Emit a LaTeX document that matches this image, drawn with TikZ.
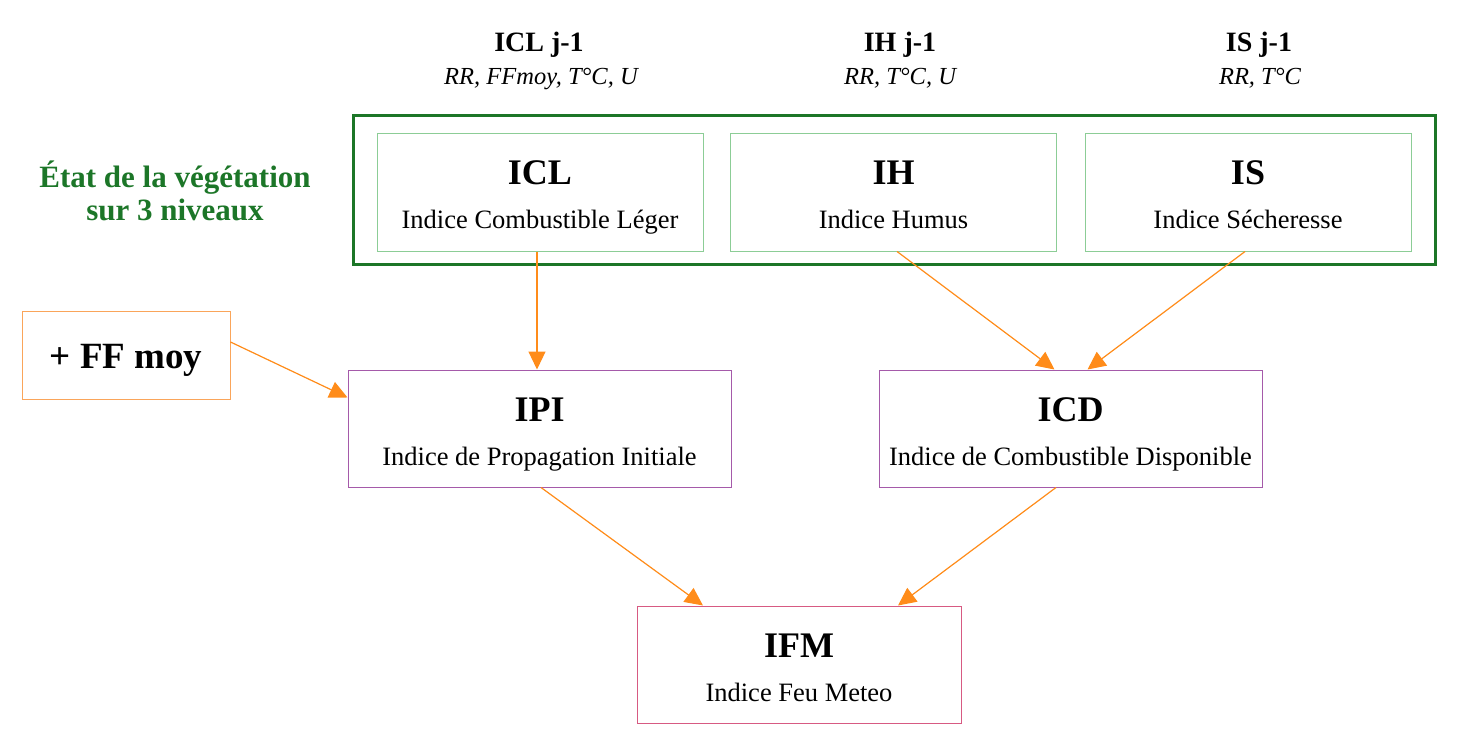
\documentclass[tikz,border=0pt]{standalone}
\usepackage{fontspec}
\setmainfont{Liberation Serif}
\usetikzlibrary{arrows.meta}
\definecolor{dkgreen}{RGB}{28,118,40}
\definecolor{ltgreen}{RGB}{140,205,150}
\definecolor{orng}{RGB}{255,140,26}
\definecolor{ffbox}{RGB}{250,165,90}
\definecolor{purp}{RGB}{165,90,170}
\definecolor{pinkb}{RGB}{215,90,130}
\tikzset{
  box/.style={draw, rectangle, inner sep=0pt, line width=1pt},
  vbox/.style={box, draw=ltgreen, minimum width=326pt, minimum height=117pt},
  ibox/.style={box, draw=purp, minimum width=383pt, minimum height=117pt},
  ttl/.style={anchor=base, inner sep=0pt, font=\fontsize{36}{36}\selectfont\bfseries},
  sub/.style={anchor=base, inner sep=0pt, font=\fontsize{26.5}{26.5}\selectfont},
  hd/.style={anchor=base, inner sep=0pt, font=\fontsize{28}{28}\selectfont\bfseries},
  vars/.style={anchor=base, inner sep=0pt, font=\fontsize{24.5}{24.5}\selectfont\itshape},
  grn/.style={anchor=base, inner sep=0pt, text=dkgreen, font=\fontsize{31}{31}\selectfont\bfseries},
  arr/.style={draw=orng, line width=1.2pt, -{Triangle[length=18pt,width=17pt]}, fill=orng}
}
\begin{document}
\begin{tikzpicture}[x=1pt,y=-1pt]
\useasboundingbox (0,0) rectangle (1460,749);
% header labels
\node[hd] (h1) at (539,52) {ICL j-1};
\node[vars] (v1) at (541,85) {RR, FFmoy, T°C, U};
\node[hd] (h2) at (900,52) {IH j-1};
\node[vars] (v2) at (900,85) {RR, T°C, U};
\node[hd] (h3) at (1259,52) {IS j-1};
\node[vars] (v3) at (1260,85) {RR, T°C};
% outer group
\node[box, draw=dkgreen, line width=3pt, minimum width=1082pt, minimum height=148pt] (grp) at (894,190) {};
\node[grn] (g1) at (175,187) {État de la végétation};
\node[grn] (g2) at (175,220) {sur 3 niveaux};
% vegetation boxes
\node[vbox] (icl) at (540,192.5) {};
\node[ttl] (iclt) at (540,185) {ICL};
\node[sub] (icls) at (540,229) {Indice Combustible Léger};
\node[vbox] (ih) at (893.5,192.5) {};
\node[ttl] (iht) at (893.5,185) {IH};
\node[sub] (ihs) at (893.5,229) {Indice Humus};
\node[vbox] (is) at (1248,192.5) {};
\node[ttl] (ist) at (1248,185) {IS};
\node[sub] (iss) at (1248,229) {Indice Sécheresse};
% FF moy
\node[box, draw=ffbox, minimum width=208pt, minimum height=88pt] (ff) at (126,355) {};
\node[anchor=base, inner sep=0pt, font=\fontsize{37}{37}\selectfont\bfseries] (fft) at (126,368) {+ FF moy};
% IPI / ICD
\node[ibox] (ipi) at (539.5,428.5) {};
\node[ttl] (ipit) at (539.5,421) {IPI};
\node[sub] (ipis) at (539.5,465) {Indice de Propagation Initiale};
\node[ibox] (icd) at (1070.5,428.5) {};
\node[ttl] (icdt) at (1070.5,421) {ICD};
\node[sub] (icds) at (1070.5,465) {Indice de Combustible Disponible};
% IFM
\node[box, draw=pinkb, minimum width=324pt, minimum height=117pt] (ifm) at (799,664.5) {};
\node[ttl] (ifmt) at (799,657) {IFM};
\node[sub] (ifms) at (799,701) {Indice Feu Meteo};
% arrows
\draw[arr] ([xshift=-3pt]icl.south) -- ([xshift=-2.5pt]ipi.north);
\draw[arr] ([yshift=13pt]ff.east) -- ([yshift=31pt]ipi.west);
\draw[arr] ([xshift=3.5pt]ih.south) -- ([xshift=-16pt]icd.north);
\draw[arr] ([xshift=-3pt]is.south) -- ([xshift=17pt]icd.north);
\draw[arr] ([xshift=1.5pt]ipi.south) -- ([xshift=-96pt]ifm.north);
\draw[arr] ([xshift=-14.5pt]icd.south) -- ([xshift=99pt]ifm.north);
\end{tikzpicture}
\end{document}
